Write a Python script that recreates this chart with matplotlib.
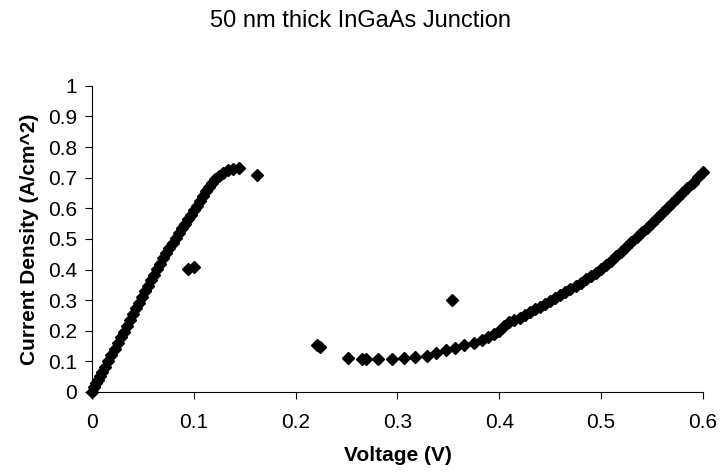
import matplotlib
matplotlib.use("Agg")
from matplotlib import pyplot as plt

# Excel-like font
matplotlib.rc('font', family='Liberation Sans', size=15)

# forward branch (0 - 0.145 V)
v_left = [0.000, 0.002, 0.004, 0.006, 0.008, 0.010, 0.013, 0.016, 0.019, 0.022,
          0.025, 0.028, 0.031, 0.034, 0.037, 0.040, 0.043, 0.046, 0.049, 0.052,
          0.055, 0.058, 0.061, 0.064, 0.067, 0.070, 0.073, 0.076, 0.079, 0.082,
          0.085, 0.088, 0.091, 0.094, 0.097, 0.100, 0.103, 0.106, 0.109, 0.112,
          0.115, 0.118, 0.121, 0.125, 0.129, 0.133, 0.138, 0.144]
j_left = [0.000, 0.015, 0.028, 0.040, 0.052, 0.064, 0.083, 0.102, 0.121, 0.140,
          0.159, 0.178, 0.197, 0.216, 0.235, 0.254, 0.273, 0.292, 0.310, 0.329,
          0.347, 0.365, 0.383, 0.401, 0.419, 0.436, 0.453, 0.470, 0.486, 0.502,
          0.518, 0.534, 0.549, 0.564, 0.579, 0.594, 0.609, 0.624, 0.640, 0.655,
          0.668, 0.682, 0.694, 0.706, 0.716, 0.724, 0.729, 0.733]

# valley / rising branch (0.22 - 0.6 V)
v_right = [0.221, 0.224, 0.251, 0.265, 0.269, 0.281, 0.295, 0.306, 0.317, 0.329,
           0.338, 0.348, 0.357, 0.365, 0.375, 0.383, 0.389, 0.395,
           0.400, 0.405, 0.410, 0.415, 0.420, 0.425, 0.430, 0.435, 0.440, 0.445,
           0.450, 0.455, 0.460, 0.465, 0.470, 0.475, 0.480, 0.485, 0.490, 0.495,
           0.500, 0.505, 0.510, 0.515, 0.520, 0.525, 0.530, 0.535, 0.540, 0.545,
           0.550, 0.555, 0.560, 0.565, 0.570, 0.575, 0.580, 0.585, 0.590, 0.595,
           0.600]
j_right = [0.155, 0.148, 0.112, 0.108, 0.108, 0.108, 0.108, 0.110, 0.114, 0.119,
           0.128, 0.136, 0.143, 0.152, 0.161, 0.170, 0.180, 0.190,
           0.200, 0.215, 0.228, 0.235, 0.242, 0.251, 0.260, 0.270, 0.279, 0.288,
           0.297, 0.306, 0.316, 0.326, 0.336, 0.346, 0.357, 0.368, 0.379, 0.390,
           0.401, 0.414, 0.428, 0.443, 0.458, 0.473, 0.489, 0.505, 0.521, 0.537,
           0.553, 0.569, 0.585, 0.601, 0.617, 0.633, 0.650, 0.667, 0.684, 0.702,
           0.720]

# stray points
v_odd = [0.094, 0.100, 0.162, 0.354]
j_odd = [0.401, 0.409, 0.709, 0.302]

fig = plt.figure(figsize=(7.2, 4.74), dpi=100)
ax = fig.add_axes([0.128, 0.173, 0.848, 0.646])

for v, j in [(v_left, j_left), (v_right, j_right), (v_odd, j_odd)]:
    ax.plot(v, j, linestyle='none', marker='D', markersize=6.5,
            color='black', clip_on=False)

ax.set_xlim(0, 0.6)
ax.set_ylim(0, 1)
ax.set_xticks([0, 0.1, 0.2, 0.3, 0.4, 0.5, 0.6])
ax.set_xticklabels(['0', '0.1', '0.2', '0.3', '0.4', '0.5', '0.6'])
ax.set_yticks([i / 10 for i in range(11)])
ax.set_yticklabels(['0', '0.1', '0.2', '0.3', '0.4', '0.5', '0.6', '0.7',
                    '0.8', '0.9', '1'])
ax.spines['top'].set_visible(False)
ax.spines['right'].set_visible(False)
ax.tick_params(direction='out', length=5, labelsize=15)
ax.tick_params(axis='x', pad=10)
ax.tick_params(axis='y', pad=6)

ax.set_xlabel('Voltage (V)', fontweight='bold', fontsize=15, labelpad=10)
ax.set_ylabel('Current Density (A/cm^2)', fontweight='bold', fontsize=15,
              labelpad=6)
fig.suptitle('50 nm thick InGaAs Junction', fontsize=17, y=0.978)

plt.savefig('out.png', dpi=100)
